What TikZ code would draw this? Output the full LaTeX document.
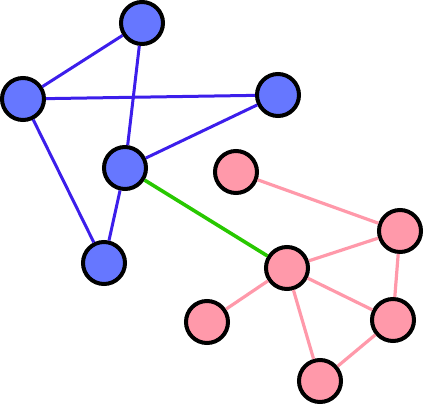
\documentclass[tikz,border=0pt]{standalone}
\usetikzlibrary{positioning}
\definecolor{bluefill}{RGB}{102,119,255}
\definecolor{blueedge}{RGB}{60,30,235}
\definecolor{pinkfill}{RGB}{255,153,170}
\definecolor{greenedge}{RGB}{40,200,0}
\begin{document}
\begin{tikzpicture}[x=1pt,y=-1pt]
\tikzset{
  bluenode/.style={circle,draw=black,line width=4pt,fill=bluefill,minimum size=42pt,inner sep=0pt},
  pinknode/.style={circle,draw=black,line width=4pt,fill=pinkfill,minimum size=42pt,inner sep=0pt},
  blueline/.style={draw=blueedge,line width=3pt},
  pinkline/.style={draw=pinkfill,line width=3.2pt},
  bridge/.style={draw=greenedge,line width=3.6pt}
}
\useasboundingbox (0,0) rectangle (426,407);
\node[bluenode] (n_b1) at (142,23) {};
\node[bluenode] (n_b2) at (23,99) {};
\node[bluenode] (n_b3) at (278,95) {};
\node[bluenode] (n_b4) at (125,168) {};
\node[bluenode] (n_b5) at (104,263) {};
\node[pinknode] (n_p1) at (236,172) {};
\node[pinknode] (n_p2) at (400,231) {};
\node[pinknode] (n_p3) at (287,268) {};
\node[pinknode] (n_p4) at (207,322) {};
\node[pinknode] (n_p5) at (393,320) {};
\node[pinknode] (n_p6) at (320,381) {};
\draw[blueline] (n_b1) -- (n_b2);
\draw[blueline] (n_b1) -- (n_b4);
\draw[blueline] (n_b2) -- (n_b3);
\draw[blueline] (n_b2) -- (n_b5);
\draw[blueline] (n_b3) -- (n_b4);
\draw[blueline] (n_b4) -- (n_b5);
\draw[pinkline] (n_p1) -- (n_p2);
\draw[pinkline] (n_p2) -- (n_p3);
\draw[pinkline] (n_p2) -- (n_p5);
\draw[pinkline] (n_p3) -- (n_p4);
\draw[pinkline] (n_p3) -- (n_p5);
\draw[pinkline] (n_p3) -- (n_p6);
\draw[pinkline] (n_p5) -- (n_p6);
\draw[bridge] (n_b4) -- (n_p3);
\end{tikzpicture}
\end{document}
